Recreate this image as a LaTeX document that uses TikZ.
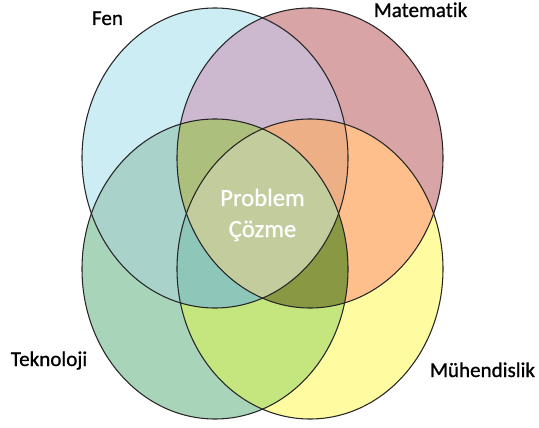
\documentclass[tikz,border=0pt]{standalone}
\usepackage{fontspec}
\setmainfont{Carlito}[Ligatures=CommonOff]
\newfontfamily\labelfont{Carlito}[Ligatures=CommonOff,FakeBold=0.9]
\usetikzlibrary{positioning}
% single sets
\definecolor{FenBlue}{HTML}{CDEDF4}
\definecolor{MatRed}{HTML}{D8A4A5}
\definecolor{TekGreen}{HTML}{A8D4BA}
\definecolor{MuhYellow}{HTML}{FFFBA0}
% overlaps
\definecolor{FenMat}{HTML}{CCB9CF}
\definecolor{FenTek}{HTML}{A9D3CA}
\definecolor{MatMuh}{HTML}{FFBF8C}
\definecolor{TekMuh}{HTML}{C5E67E}
\definecolor{FenMatTek}{HTML}{ACBF7C}
\definecolor{FenMatMuh}{HTML}{EDAF86}
\definecolor{FenTekMuh}{HTML}{8EC7BA}
\definecolor{MatTekMuh}{HTML}{889843}
\definecolor{AllFour}{HTML}{C2CC9C}
\tikzset{
  vennline/.style={draw=black!85,line width=0.8pt},
  setlabel/.style={inner sep=0pt,anchor=base,font=\labelfont\fontsize{15.8}{19}\selectfont},
  corelabel/.style={inner sep=0pt,align=center,text=white,
    font=\labelfont\fontsize{18.5}{23.3}\selectfont},
}
\newcommand{\fenset}{(215,158) ellipse [x radius=133, y radius=150]}
\newcommand{\matset}{(310,158) ellipse [x radius=133, y radius=150]}
\newcommand{\tekset}{(215,269) ellipse [x radius=133, y radius=150]}
\newcommand{\muhset}{(310,269) ellipse [x radius=133, y radius=150]}
\begin{document}
\begin{tikzpicture}[x=0.75pt,y=-0.75pt]
\useasboundingbox (0,0) rectangle (539,428);
% the four sets
\fill[FenBlue] \fenset;
\fill[MatRed] \matset;
\fill[TekGreen] \tekset;
\fill[MuhYellow] \muhset;
% two at a time
\begin{scope}\clip \fenset; \fill[FenMat] \matset; \end{scope}
\begin{scope}\clip \fenset; \fill[FenTek] \tekset; \end{scope}
\begin{scope}\clip \matset; \fill[MatMuh] \muhset; \end{scope}
\begin{scope}\clip \tekset; \fill[TekMuh] \muhset; \end{scope}
% three at a time
\begin{scope}\clip \fenset; \clip \matset; \fill[FenMatTek] \tekset; \end{scope}
\begin{scope}\clip \fenset; \clip \matset; \fill[FenMatMuh] \muhset; \end{scope}
\begin{scope}\clip \fenset; \clip \tekset; \fill[FenTekMuh] \muhset; \end{scope}
\begin{scope}\clip \matset; \clip \tekset; \fill[MatTekMuh] \muhset; \end{scope}
% all four
\begin{scope}\clip \fenset; \clip \matset; \clip \tekset; \fill[AllFour] \muhset; \end{scope}
% outlines
\draw[vennline] \fenset;
\draw[vennline] \matset;
\draw[vennline] \tekset;
\draw[vennline] \muhset;
% labels
\node[setlabel] (fen) at (107.5,25) {Fen};
\node[setlabel] (mat) at (420.5,17) {Matematik};
\node[setlabel] (tek) at (49,366) {Teknoloji};
\node[setlabel] (muh) at (482.5,377) {Mühendislik};
\node[corelabel] (core) at (262.5,215) {Problem\\Çözme};
\end{tikzpicture}
\end{document}
